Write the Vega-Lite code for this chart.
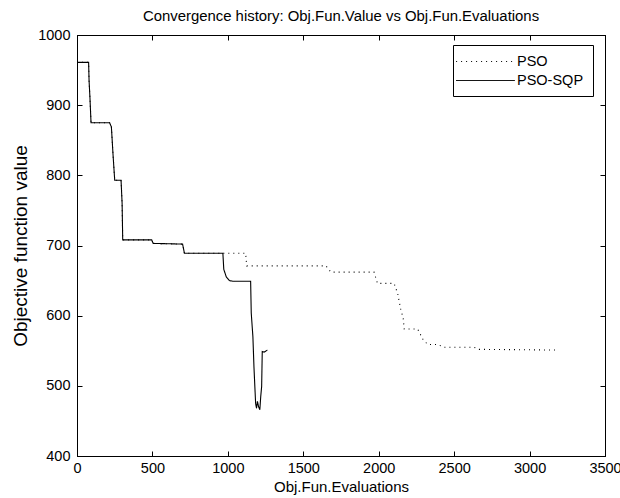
{
  "$schema": "https://vega.github.io/schema/vega-lite/v6.json",
  "width": 528,
  "height": 421,
  "autosize": {"type": "none"},
  "padding": {"left": 77, "top": 35, "right": 15, "bottom": 42},
  "background": "white",
  "config": {
    "view": {"stroke": "black", "strokeWidth": 1},
    "font": "Liberation Sans",
    "axis": {
      "grid": false,
      "domainColor": "black",
      "tickColor": "black",
      "labelColor": "black",
      "titleColor": "black",
      "labelFont": "Liberation Sans",
      "titleFont": "Liberation Sans",
      "labelFontSize": 14.5,
      "titleFontSize": 15,
      "titleFontWeight": "normal",
      "tickSize": -5,
      "labelFlush": false,
      "labelOverlap": false,
      "format": "d"
    },
    "legend": {
      "orient": "none",
      "legendX": 376,
      "legendY": 10,
      "strokeColor": "black",
      "fillColor": "white",
      "padding": 9,
      "symbolType": "M-4.2,0H4.2",
      "symbolSize": 196,
      "symbolOffset": 16,
      "labelOffset": 24,
      "symbolStrokeWidth": 1,
      "symbolStrokeColor": "black",
      "labelFont": "Liberation Sans",
      "labelFontSize": 14.5,
      "labelColor": "black",
      "rowPadding": 4
    }
  },
  "title": {
    "text": "Convergence history: Obj.Fun.Value vs Obj.Fun.Evaluations",
    "font": "Liberation Sans",
    "fontSize": 14.9,
    "fontWeight": "normal",
    "color": "black",
    "anchor": "middle",
    "offset": 3
  },
  "data": {
    "values": [
      {"s": "PSO", "i": 0, "x": 0, "y": 961},
      {"s": "PSO", "i": 1, "x": 77, "y": 961},
      {"s": "PSO", "i": 2, "x": 80, "y": 935},
      {"s": "PSO", "i": 3, "x": 86, "y": 910},
      {"s": "PSO", "i": 4, "x": 93, "y": 875},
      {"s": "PSO", "i": 5, "x": 216, "y": 875},
      {"s": "PSO", "i": 6, "x": 228, "y": 869},
      {"s": "PSO", "i": 7, "x": 239, "y": 829},
      {"s": "PSO", "i": 8, "x": 250, "y": 793},
      {"s": "PSO", "i": 9, "x": 292, "y": 793},
      {"s": "PSO", "i": 10, "x": 299, "y": 760},
      {"s": "PSO", "i": 11, "x": 303, "y": 708},
      {"s": "PSO", "i": 12, "x": 495, "y": 708},
      {"s": "PSO", "i": 13, "x": 505, "y": 703},
      {"s": "PSO", "i": 14, "x": 700, "y": 702},
      {"s": "PSO", "i": 15, "x": 712, "y": 689},
      {"s": "PSO", "i": 16, "x": 967, "y": 689},
      {"s": "PSO", "i": 17, "x": 1118, "y": 689},
      {"s": "PSO", "i": 18, "x": 1125, "y": 671},
      {"s": "PSO", "i": 19, "x": 1650, "y": 671},
      {"s": "PSO", "i": 20, "x": 1683, "y": 662},
      {"s": "PSO", "i": 21, "x": 1969, "y": 662},
      {"s": "PSO", "i": 22, "x": 1992, "y": 646},
      {"s": "PSO", "i": 23, "x": 2102, "y": 646},
      {"s": "PSO", "i": 24, "x": 2125, "y": 632},
      {"s": "PSO", "i": 25, "x": 2147, "y": 608},
      {"s": "PSO", "i": 26, "x": 2162, "y": 597},
      {"s": "PSO", "i": 27, "x": 2169, "y": 581},
      {"s": "PSO", "i": 28, "x": 2258, "y": 581},
      {"s": "PSO", "i": 29, "x": 2291, "y": 567},
      {"s": "PSO", "i": 30, "x": 2324, "y": 559},
      {"s": "PSO", "i": 31, "x": 2390, "y": 559},
      {"s": "PSO", "i": 32, "x": 2432, "y": 555},
      {"s": "PSO", "i": 33, "x": 2631, "y": 555},
      {"s": "PSO", "i": 34, "x": 2665, "y": 552},
      {"s": "PSO", "i": 35, "x": 3187, "y": 551},
      {"s": "PSO-SQP", "i": 0, "x": 0, "y": 961},
      {"s": "PSO-SQP", "i": 1, "x": 77, "y": 961},
      {"s": "PSO-SQP", "i": 2, "x": 80, "y": 935},
      {"s": "PSO-SQP", "i": 3, "x": 86, "y": 910},
      {"s": "PSO-SQP", "i": 4, "x": 93, "y": 875},
      {"s": "PSO-SQP", "i": 5, "x": 216, "y": 875},
      {"s": "PSO-SQP", "i": 6, "x": 228, "y": 869},
      {"s": "PSO-SQP", "i": 7, "x": 239, "y": 829},
      {"s": "PSO-SQP", "i": 8, "x": 250, "y": 793},
      {"s": "PSO-SQP", "i": 9, "x": 292, "y": 793},
      {"s": "PSO-SQP", "i": 10, "x": 299, "y": 760},
      {"s": "PSO-SQP", "i": 11, "x": 303, "y": 708},
      {"s": "PSO-SQP", "i": 12, "x": 495, "y": 708},
      {"s": "PSO-SQP", "i": 13, "x": 505, "y": 703},
      {"s": "PSO-SQP", "i": 14, "x": 700, "y": 702},
      {"s": "PSO-SQP", "i": 15, "x": 712, "y": 689},
      {"s": "PSO-SQP", "i": 16, "x": 967, "y": 689},
      {"s": "PSO-SQP", "i": 17, "x": 973, "y": 666},
      {"s": "PSO-SQP", "i": 18, "x": 990, "y": 655},
      {"s": "PSO-SQP", "i": 19, "x": 1010, "y": 650},
      {"s": "PSO-SQP", "i": 20, "x": 1033, "y": 649},
      {"s": "PSO-SQP", "i": 21, "x": 1151, "y": 649},
      {"s": "PSO-SQP", "i": 22, "x": 1155, "y": 604},
      {"s": "PSO-SQP", "i": 23, "x": 1166, "y": 570},
      {"s": "PSO-SQP", "i": 24, "x": 1173, "y": 527},
      {"s": "PSO-SQP", "i": 25, "x": 1184, "y": 475},
      {"s": "PSO-SQP", "i": 26, "x": 1190, "y": 468},
      {"s": "PSO-SQP", "i": 27, "x": 1196, "y": 478},
      {"s": "PSO-SQP", "i": 28, "x": 1204, "y": 470},
      {"s": "PSO-SQP", "i": 29, "x": 1212, "y": 466},
      {"s": "PSO-SQP", "i": 30, "x": 1218, "y": 485},
      {"s": "PSO-SQP", "i": 31, "x": 1224, "y": 499},
      {"s": "PSO-SQP", "i": 32, "x": 1228, "y": 549},
      {"s": "PSO-SQP", "i": 33, "x": 1240, "y": 548},
      {"s": "PSO-SQP", "i": 34, "x": 1262, "y": 551}
    ]
  },
  "layer": [
    {
      "mark": {"type": "line", "strokeWidth": 1.1, "clip": true},
      "encoding": {
        "x": {
          "field": "x",
          "type": "quantitative",
          "scale": {"domain": [0, 3500], "nice": false, "zero": false},
          "axis": {
            "values": [0, 500, 1000, 1500, 2000, 2500, 3000, 3500],
            "title": "Obj.Fun.Evaluations",
            "labelPadding": 10,
            "titlePadding": 5
          }
        },
        "y": {
          "field": "y",
          "type": "quantitative",
          "scale": {"domain": [400, 1000], "nice": false, "zero": false},
          "axis": {
            "values": [400, 500, 600, 700, 800, 900, 1000],
            "title": "Objective function value",
            "titleFontSize": 19,
            "labelPadding": 12,
            "titlePadding": 7.5
          }
        },
        "order": {"field": "i", "type": "quantitative"},
        "color": {
          "field": "s",
          "type": "nominal",
          "scale": {"domain": ["PSO", "PSO-SQP"], "range": ["black", "black"]},
          "legend": {"title": null}
        },
        "strokeDash": {
          "field": "s",
          "type": "nominal",
          "scale": {"domain": ["PSO", "PSO-SQP"], "range": [[1, 4], [1, 0]]},
          "legend": {"title": null}
        }
      }
    },
    {
      "mark": {"type": "line", "opacity": 0},
      "encoding": {
        "x": {
          "field": "x",
          "type": "quantitative",
          "axis": {
            "orient": "top",
            "values": [0, 500, 1000, 1500, 2000, 2500, 3000, 3500],
            "labels": false,
            "title": null
          }
        },
        "y": {
          "field": "y",
          "type": "quantitative",
          "axis": {
            "orient": "right",
            "values": [400, 500, 600, 700, 800, 900, 1000],
            "labels": false,
            "title": null
          }
        },
        "detail": {"field": "s", "type": "nominal"},
        "order": {"field": "i", "type": "quantitative"}
      }
    }
  ],
  "resolve": {"axis": {"x": "independent", "y": "independent"}}
}
